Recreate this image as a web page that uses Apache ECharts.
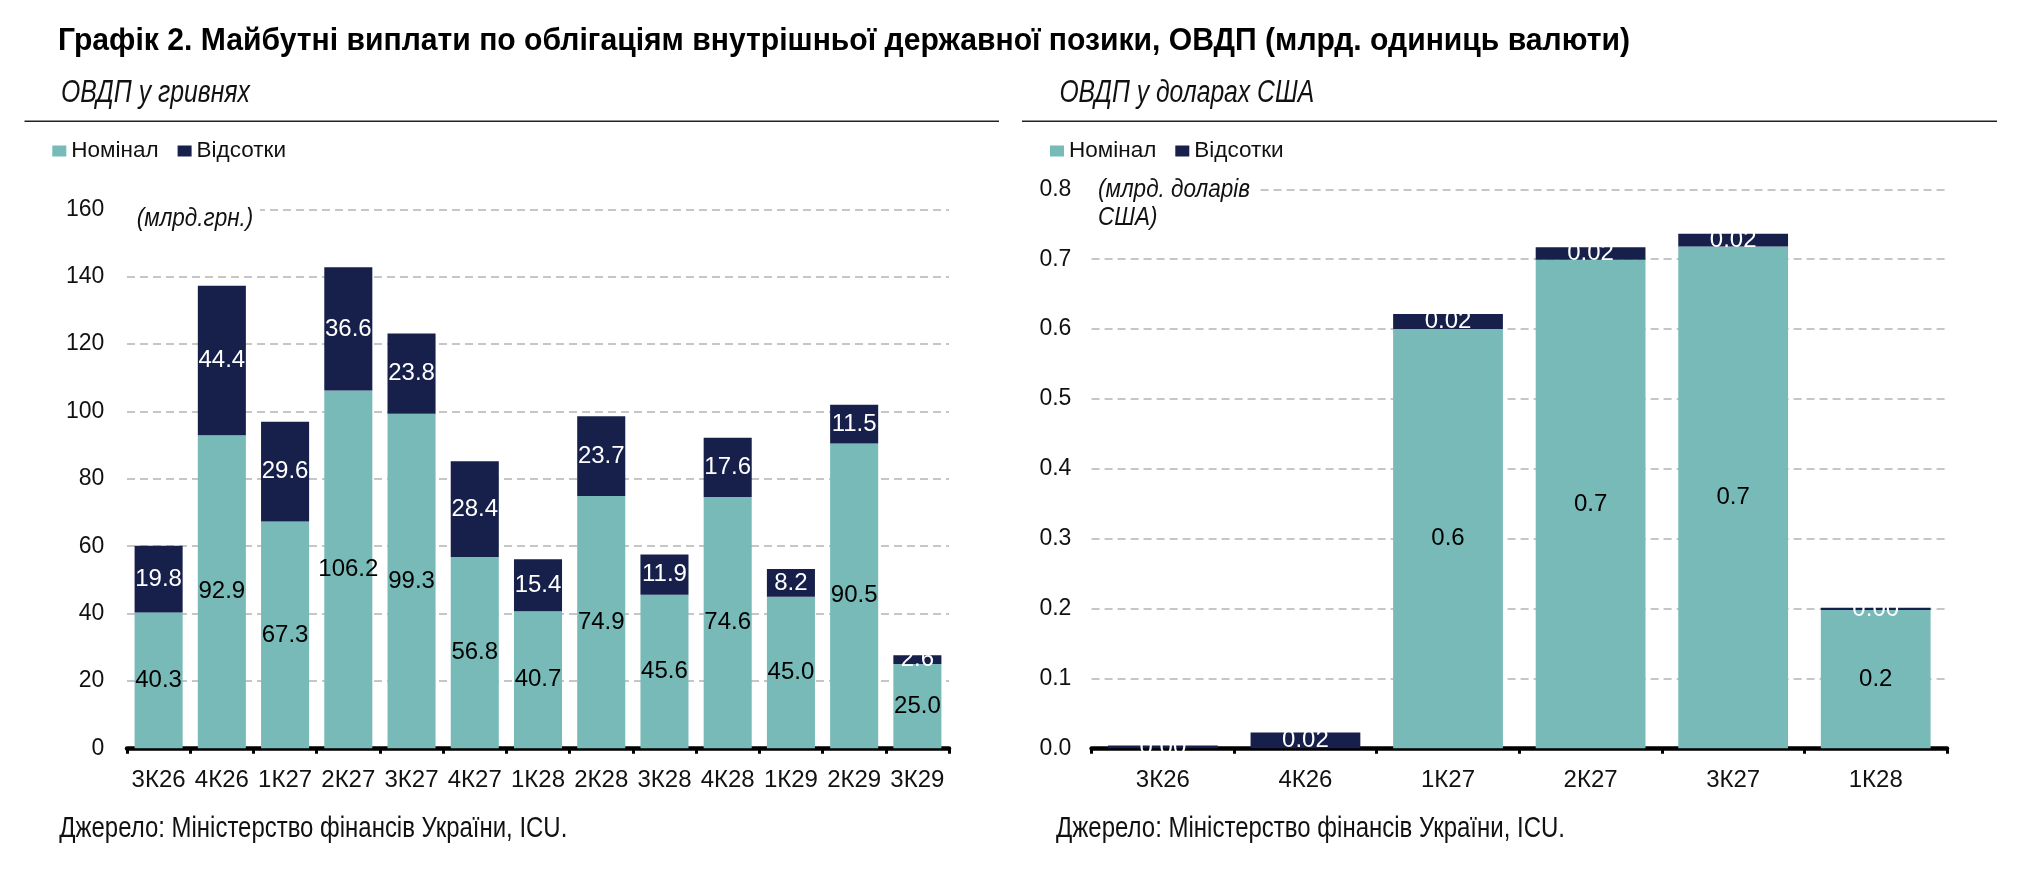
<!DOCTYPE html>
<html>
<head>
<meta charset="utf-8">
<script src="https://cdn.jsdelivr.net/npm/echarts@6/dist/echarts.min.js"></script>
<style>
html,body{margin:0;padding:0;background:#fff;}
#c{width:2022px;height:870px;}
</style>
</head>
<body>
<div id="c"></div>
<script>
const catsUAH = ['3К26','4К26','1К27','2К27','3К27','4К27','1К28','2К28','3К28','4К28','1К29','2К29','3К29'];
const nomUAH = [40.3, 92.9, 67.3, 106.2, 99.3, 56.8, 40.7, 74.9, 45.6, 74.6, 45.0, 90.5, 25.0];
const intUAH = [19.8, 44.4, 29.6, 36.6, 23.8, 28.4, 15.4, 23.7, 11.9, 17.6, 8.2, 11.5, 2.6];
const catsUSD = ['3К26','4К26','1К27','2К27','3К27','1К28'];
const nomUSD = [0, 0, 0.600, 0.699, 0.718, 0.198];
const intUSD = [0.004, 0.0225, 0.0215, 0.018, 0.0185, 0.003];
const ticksUAH = [0, 20, 40, 60, 80, 100, 120, 140, 160];
const ticksUSD = [0, 0.1, 0.2, 0.3, 0.4, 0.5, 0.6, 0.7, 0.8];
const seriesNames = ['Номінал', 'Відсотки'];

const FONT = "'Liberation Sans', Arial, sans-serif";
const TEAL = '#77BAB8';
const NAVY = '#16204A';
const TXT = '#111';

// horizontal condensing factor for free-standing texts (to mimic the condensed typeface)
const mctx = document.createElement('canvas').getContext('2d');
function fitScale(text, font, target) {
  mctx.font = font;
  return target / mctx.measureText(text).width;
}

const chart = echarts.init(document.getElementById('c'), null, {renderer: 'canvas'});

function xAxisCfg(idx, cats) {
  return {
    type: 'category', gridIndex: idx, data: cats, offset: 2.5,
    axisLine: {show: true, lineStyle: {color: '#000', width: 4.5}},
    axisTick: {show: true, length: 5.5, lineStyle: {color: '#000', width: 3}},
    axisLabel: {color: TXT, fontFamily: FONT, fontSize: 24, margin: 17.5, interval: 0},
    splitLine: {show: false}
  };
}
function yAxisCfg(idx, ticks, dec, margin) {
  return {
    type: 'value', gridIndex: idx,
    min: ticks[0], max: ticks[ticks.length - 1], interval: ticks[1] - ticks[0],
    axisLine: {show: false}, axisTick: {show: false},
    axisLabel: {color: TXT, fontFamily: FONT, fontSize: 23, margin: margin,
      formatter: v => dec ? v.toFixed(dec) : String(v)},
    splitLine: {show: true, lineStyle: {color: '#c6c6c6', width: 2, type: [8, 5]}}
  };
}
function lbl(color, fmt) {
  return {show: true, position: 'inside', color: color, fontFamily: FONT, fontSize: 24, formatter: fmt};
}
function legendCfg(left) {
  return {left: left, top: 139.5, padding: 0, itemWidth: 14, itemHeight: 11, itemGap: 19, icon: 'rect',
    textStyle: {fontFamily: FONT, fontSize: 22.5, color: TXT}, data: seriesNames};
}
function txt(x, y, text, size, style, weight, target, extra) {
  const f = (style || '') + ' ' + (weight || '') + ' ' + size + 'px "Liberation Sans"';
  const firstLine = text.split('\n')[0];
  const s = target ? fitScale(firstLine, f, target) : 1;
  return Object.assign({type: 'text', x: x, y: y, scaleX: s, scaleY: 1, z: 101,
    style: Object.assign({text: text, fontFamily: FONT, fontSize: size, fontStyle: style || 'normal',
      fontWeight: weight || 'normal', fill: TXT, align: 'left', verticalAlign: 'middle'}, extra || {})});
}

const TITLE = 'Графік 2. Майбутні виплати по облігаціям внутрішньої державної позики, ОВДП (млрд. одиниць валюти)';
const SOURCE = 'Джерело: Міністерство фінансів України, ICU.';

const option = {
  animation: false,
  backgroundColor: '#fff',
  grid: [
    {left: 127, top: 209.3, width: 822, height: 539, containLabel: false},
    {left: 1091.6, top: 189.3, width: 855.4, height: 559, containLabel: false}
  ],
  legend: [legendCfg(52.3), legendCfg(1050)],
  xAxis: [xAxisCfg(0, catsUAH), xAxisCfg(1, catsUSD)],
  yAxis: [yAxisCfg(0, ticksUAH, 0, 22.6), yAxisCfg(1, ticksUSD, 1, 20.2)],
  series: [
    {name: seriesNames[0], type: 'bar', stack: 'L', xAxisIndex: 0, yAxisIndex: 0, data: nomUAH,
     barCategoryGap: '24%', itemStyle: {color: TEAL},
     label: lbl('#000', p => p.value.toFixed(1))},
    {name: seriesNames[1], type: 'bar', stack: 'L', xAxisIndex: 0, yAxisIndex: 0, data: intUAH,
     barCategoryGap: '24%', itemStyle: {color: NAVY},
     label: lbl('#fff', p => p.value.toFixed(1))},
    {name: seriesNames[0], type: 'bar', stack: 'R', xAxisIndex: 1, yAxisIndex: 1, data: nomUSD,
     barCategoryGap: '23%', itemStyle: {color: TEAL},
     label: lbl('#000', p => p.value > 0 ? p.value.toFixed(1) : '')},
    {name: seriesNames[1], type: 'bar', stack: 'R', xAxisIndex: 1, yAxisIndex: 1, data: intUSD,
     barCategoryGap: '23%', itemStyle: {color: NAVY},
     label: lbl('#fff', p => p.value.toFixed(2))}
  ],
  graphic: [
    txt(58, 41, TITLE, 32, 'normal', 'bold', 1572, {fill: '#000'}),
    txt(61, 93, 'ОВДП у гривнях', 31, 'italic', 'normal', 189),
    txt(1059.4, 93, 'ОВДП у доларах США', 31, 'italic', 'normal', 254.7),
    {type: 'line', z: 100, shape: {x1: 24.5, y1: 121.3, x2: 999, y2: 121.3}, style: {stroke: '#222', lineWidth: 1.5}},
    {type: 'line', z: 100, shape: {x1: 1022, y1: 121.3, x2: 1997, y2: 121.3}, style: {stroke: '#222', lineWidth: 1.5}},
    {type: 'rect', z: 100, shape: {x: 125, y: 200, width: 135, height: 20}, style: {fill: '#fff'}},
    txt(136.7, 218.5, '(млрд.грн.)', 26, 'italic', 'normal', 116.6),
    {type: 'rect', z: 100, shape: {x: 1089, y: 180, width: 171, height: 20}, style: {fill: '#fff'}},
    txt(1098, 204, '(млрд. доларів\nСША)', 26, 'italic', 'normal', 152, {lineHeight: 28}),
    txt(59.3, 829, SOURCE, 30, 'normal', 'normal', 508),
    txt(1056, 829, SOURCE, 30, 'normal', 'normal', 509)
  ]
};
chart.setOption(option);
</script>
</body>
</html>
